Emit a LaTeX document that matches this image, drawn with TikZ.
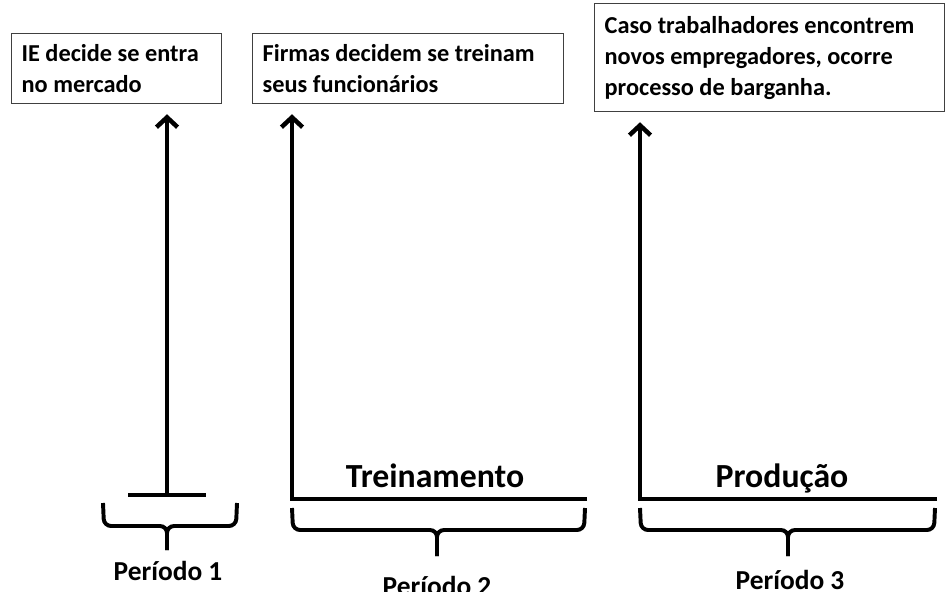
\documentclass[tikz,border=0pt]{standalone}
\usepackage{fontspec}
\setmainfont{Carlito}
\usetikzlibrary{arrows.meta}
\usetikzlibrary{positioning}

\tikzset{
    evento/.style={draw=black!75, line width=0.9pt, anchor=north west, align=flush left,
        inner xsep=0.25cm, font=\bfseries\fontsize{17.3}{21.5}\selectfont},
    seta/.style={line width=3.2pt, -{Straight Barb[length=7pt,width=15pt]}, shorten >=0.25cm},
    chave/.style={line width=2.8pt, rounded corners=5pt},
    fase/.style={font=\bfseries\fontsize{24}{28}\selectfont, anchor=base},
    periodo/.style={font=\bfseries\fontsize{19.5}{22}\selectfont, anchor=base},
}

\begin{document}
\begin{tikzpicture}

    \clip (0,0) rectangle (23.65,14.775);

    % caixas de decisao
    \node[evento, text width=4.75cm, minimum height=1.75cm] (ie) at (0.275,13.95)
    {IE decide se entra\\no mercado};
    \node[evento, text width=7.275cm, minimum height=1.75cm] (firmas) at (6.3,13.95)
    {Firmas decidem se treinam\\seus funcion\'arios};
    \node[evento, text width=8.25cm, minimum height=2.7cm,
        font=\bfseries\fontsize{17.3}{22}\selectfont] (barg) at (14.85,14.7)
    {Caso trabalhadores encontrem\\novos empregadores, ocorre\\processo de barganha.};

    % setas e linhas do tempo
    \coordinate (b1) at (4.175,2.4);
    \coordinate (b2) at (7.3,2.3);
    \coordinate (b3) at (16.0,2.3);
    \draw[line width=3.2pt] (3.2,2.4) -- (5.15,2.4);
    \draw[seta] (b1) -- (b1 |- ie.south);
    \draw[seta] (14.675,2.3) -- (b2) -- (b2 |- firmas.south);
    \draw[seta] (23.425,2.3) -- (b3) -- (b3 |- barg.south);

    \node[fase] (trein) at (10.875,2.6) {Treinamento};
    \node[fase] (prod) at (19.55,2.6) {Produção};

    % chaves
    \draw[chave] (2.575,2.2) -- (2.6,1.625) -- (4.175,1.625) -- (4.175,1.025);
    \draw[chave] (5.925,2.2) -- (5.9,1.625) -- (4.175,1.625) -- (4.175,1.025);
    \draw[chave] (7.3,2.075) -- (7.325,1.525) -- (10.925,1.525) -- (10.925,0.875);
    \draw[chave] (14.625,2.075) -- (14.6,1.525) -- (10.925,1.525) -- (10.925,0.875);
    \draw[chave] (16.0,2.075) -- (16.025,1.525) -- (19.7,1.525) -- (19.7,0.875);
    \draw[chave] (23.375,2.075) -- (23.35,1.525) -- (19.7,1.525) -- (19.7,0.875);

    \node[periodo] (p1) at (4.2,0.275) {Período 1};
    \node[periodo] (p2) at (10.925,-0.1) {Período 2};
    \node[periodo] (p3) at (19.75,0.05) {Período 3};

\end{tikzpicture}
\end{document}
